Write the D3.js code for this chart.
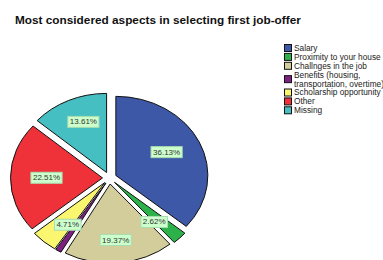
<!DOCTYPE html>
<html>
<head>
<meta charset="utf-8">
<script src="https://cdn.jsdelivr.net/npm/d3@7"></script>
<style>
  body { margin: 0; background: #fff; }
  svg { display: block; font-family: "Liberation Sans", Arial, sans-serif; }
</style>
</head>
<body>
<div id="chart"></div>
<script>
// Chart data
const categories = ["Salary", "Proximity to your house", "Challnges in the job",
  "Benefits (housing, transportation, overtime)", "Scholarship opportunity", "Other", "Missing"];
const legendLines = [["Salary"], ["Proximity to your house"], ["Challnges in the job"],
  ["Benefits (housing,", "transportation, overtime)"], ["Scholarship opportunity"], ["Other"], ["Missing"]];
const percents = [36.13, 2.62, 19.37, 1.05, 4.71, 22.51, 13.61];
const showLabel = [true, true, true, false, true, true, true];
const colors = ["#3e58a8", "#2db14b", "#d3cc9b", "#7d2181", "#faf66f", "#ef3239", "#45bfc2"];

const width = 383, height = 260;
const cx = 109.5, cy = 178, rx = 92, squash = 0.86, explode = 7;

const svg = d3.select("#chart").append("svg")
  .attr("width", width)
  .attr("height", height);

// Title
svg.append("text")
  .attr("x", 15)
  .attr("y", 24)
  .attr("font-size", 11.8)
  .attr("font-weight", "bold")
  .attr("fill", "#111")
  .text("Most considered aspects in selecting first job-offer");

const data = categories.map((c, i) => ({ name: c, value: percents[i], i: i }));

const pie = d3.pie().sort(null).value(d => d.value);
const arc = d3.arc().innerRadius(0).outerRadius(rx);
const arcs = pie(data);

// Pie, squashed vertically like the original
const pieG = svg.append("g")
  .attr("transform", `translate(${cx},${cy}) scale(1,${squash})`);

pieG.selectAll("path")
  .data(arcs)
  .enter().append("path")
  .attr("transform", d => {
    const a = (d.startAngle + d.endAngle) / 2;
    return `translate(${Math.sin(a) * explode},${-Math.cos(a) * explode})`;
  })
  .attr("d", arc)
  .attr("fill", d => colors[d.data.i])
  .attr("stroke", "#111")
  .attr("stroke-width", 1)
  .attr("vector-effect", "non-scaling-stroke");

// Percentage labels
const labelRx = 63, labelRy = 62;
const lab = svg.selectAll(".lab")
  .data(arcs.filter(d => showLabel[d.data.i]))
  .enter().append("g")
  .attr("class", "lab")
  .attr("transform", d => {
    const a = (d.startAngle + d.endAngle) / 2;
    return `translate(${cx + Math.sin(a) * labelRx},${cy - Math.cos(a) * labelRy})`;
  });

lab.append("text")
  .attr("text-anchor", "middle")
  .attr("dy", "0.35em")
  .attr("font-size", 8)
  .attr("fill", "#333")
  .text(d => d3.format(".2f")(d.data.value) + "%");

lab.each(function() {
  const g = d3.select(this);
  const bb = g.select("text").node().getBBox();
  g.insert("rect", "text")
    .attr("x", bb.x - 2)
    .attr("y", bb.y - 1)
    .attr("width", bb.width + 4)
    .attr("height", bb.height + 2)
    .attr("fill", "#ccffcc")
    .attr("stroke", "#a9dcb0")
    .attr("stroke-width", 1);
});

// Legend
const lineH = 8.9;
let yPos = 48;
const legend = svg.append("g");
legendLines.forEach((lines, i) => {
  const h = lines.length * lineH;
  const mid = yPos + (lines.length - 1) * lineH / 2;
  legend.append("rect")
    .attr("x", 284.5)
    .attr("y", mid - 3.5)
    .attr("width", 7)
    .attr("height", 7)
    .attr("fill", colors[i])
    .attr("stroke", "#111")
    .attr("stroke-width", 1);
  lines.forEach((t, j) => {
    legend.append("text")
      .attr("x", 294)
      .attr("y", yPos + j * lineH)
      .attr("dy", "0.35em")
      .attr("font-size", 8.3)
      .attr("fill", "#222")
      .text(t);
  });
  yPos += h;
});
</script>
</body>
</html>
